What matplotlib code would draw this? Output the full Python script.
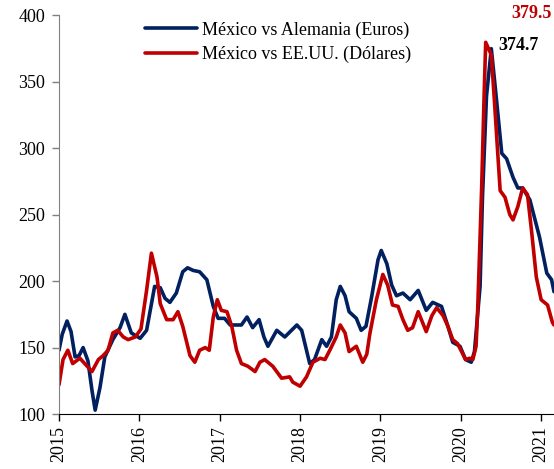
import matplotlib.pyplot as plt

plt.rcParams['font.family'] = ['Liberation Serif', 'DejaVu Serif']

# México vs Alemania (Euros)
x_de = [2015.00, 2015.04, 2015.10, 2015.15, 2015.20, 2015.25, 2015.30, 2015.36,
        2015.41, 2015.45, 2015.51, 2015.57,
        2015.67, 2015.76, 2015.82, 2015.90, 2016.01, 2016.09, 2016.19, 2016.26,
        2016.32, 2016.38, 2016.46, 2016.54, 2016.60, 2016.67, 2016.75, 2016.84,
        2016.92, 2016.98, 2017.06, 2017.13, 2017.21, 2017.27, 2017.34, 2017.41,
        2017.49, 2017.55, 2017.60, 2017.71, 2017.81, 2017.96, 2018.02, 2018.12,
        2018.18, 2018.27, 2018.33, 2018.39, 2018.45, 2018.50, 2018.56, 2018.61,
        2018.70, 2018.76, 2018.82, 2018.89, 2018.97, 2019.01, 2019.08, 2019.14,
        2019.20, 2019.28, 2019.37, 2019.47, 2019.57, 2019.65, 2019.76, 2019.84,
        2019.90, 2019.99, 2020.06, 2020.13, 2020.17, 2020.24, 2020.27, 2020.32,
        2020.38, 2020.44, 2020.51, 2020.57, 2020.65, 2020.71, 2020.77, 2020.86,
        2020.98, 2021.07, 2021.13, 2021.16]
y_de = [148, 160, 170, 162, 143, 144, 150, 140,
        118, 103, 120, 143,
        156, 165, 175, 161, 157, 163, 196, 195,
        187, 184, 191, 207, 210, 208, 207, 201,
        181, 172, 172, 167, 167, 167, 173, 165,
        171, 158, 151, 163, 158, 167, 163, 138,
        141, 156, 151, 158, 186, 196, 189, 177,
        172, 163, 166, 188, 216, 223, 213, 197,
        189, 191, 186, 193, 178, 184, 181, 166,
        154, 151, 141, 139, 147, 196, 263, 339,
        374.7, 339, 296, 292, 278, 270, 270, 261,
        233, 206, 201, 192]

# México vs EE.UU. (Dólares)
x_us = [2015.00, 2015.05, 2015.11, 2015.17, 2015.26, 2015.32, 2015.41, 2015.49,
        2015.55, 2015.61, 2015.67, 2015.73, 2015.80, 2015.86, 2015.95, 2016.02,
        2016.09, 2016.15, 2016.22, 2016.26, 2016.34, 2016.42, 2016.48, 2016.54,
        2016.63, 2016.69, 2016.75, 2016.82, 2016.87, 2016.92, 2016.97, 2017.02,
        2017.09, 2017.15, 2017.21, 2017.27, 2017.35, 2017.44, 2017.50, 2017.56,
        2017.66, 2017.77, 2017.87, 2017.91, 2018.00, 2018.08, 2018.16, 2018.25,
        2018.31, 2018.37, 2018.45, 2018.50, 2018.56, 2018.61, 2018.70, 2018.78,
        2018.83, 2018.87, 2018.95, 2019.03, 2019.09, 2019.15, 2019.22, 2019.28,
        2019.34, 2019.40, 2019.47, 2019.53, 2019.57, 2019.64, 2019.70, 2019.78,
        2019.84, 2019.90, 2019.96, 2020.01, 2020.06, 2020.11, 2020.15, 2020.19,
        2020.21, 2020.24, 2020.26, 2020.29, 2020.31, 2020.38, 2020.42, 2020.46,
        2020.49, 2020.55, 2020.61, 2020.65, 2020.71, 2020.77, 2020.83, 2020.88,
        2020.94, 2021.00, 2021.08, 2021.14, 2021.16]
y_us = [122, 141, 148, 138, 142, 138, 132, 141,
        144, 148, 161, 163, 158, 156, 158, 164,
        193, 221, 203, 183, 171, 171, 177, 166,
        144, 139, 148, 150, 148, 173, 186, 178,
        177, 166, 148, 138, 136, 132, 139, 141,
        136, 127, 128, 124, 121, 128, 139, 142,
        141, 148, 158, 167, 161, 147, 151, 139,
        145, 161, 186, 205, 197, 182, 181, 171,
        163, 165, 177, 168, 162, 174, 180, 174,
        166, 156, 153, 147, 141, 142, 141, 151,
        178, 233, 271, 339, 379.5, 370, 334, 296,
        268, 263, 250, 246, 256, 270, 265, 238,
        203, 186, 182, 169, 167]

years = [2015, 2016, 2017, 2018, 2019, 2020, 2021]
yticks = [100, 150, 200, 250, 300, 350, 400]

fig = plt.figure(figsize=(5.54, 4.69), dpi=100)
ax = fig.add_axes([0.1065, 0.117, 0.8935, 0.851])

ax.plot(x_de, y_de, color='#002060', lw=2.6, label='México vs Alemania (Euros)',
        solid_joinstyle='round', solid_capstyle='round')
ax.plot(x_us, y_us, color='#C00000', lw=2.6, label='México vs EE.UU. (Dólares)',
        solid_joinstyle='round', solid_capstyle='round')

ax.set_xlim(2015, 2021.16)
ax.set_ylim(100, 400)
ax.set_xticks(years)
ax.set_xticklabels([str(y) for y in years], rotation=90, fontsize=13)
ax.set_yticks(yticks)
ax.set_yticklabels([str(v) for v in yticks], fontsize=13)
ax.tick_params(direction='out', length=5, width=1)
ax.tick_params(axis='y', colors='#808080', labelcolor='black', pad=5)

ax.spines['top'].set_visible(False)
ax.spines['right'].set_visible(False)
ax.spines['left'].set_color('#808080')
ax.spines['bottom'].set_color('black')

ax.text(2021.13, 401, '379.5', color='#C00000', fontsize=13, fontweight='bold',
        ha='right', va='center', clip_on=False)
ax.text(2020.47, 377, '374.7', color='black', fontsize=13, fontweight='bold',
        ha='left', va='center')

ax.legend(loc='upper left', bbox_to_anchor=(0.14, 1.025), frameon=False,
          fontsize=13, handlelength=2.9, handletextpad=0.3, labelspacing=0.4)

fig.savefig('out.png', dpi=100)
